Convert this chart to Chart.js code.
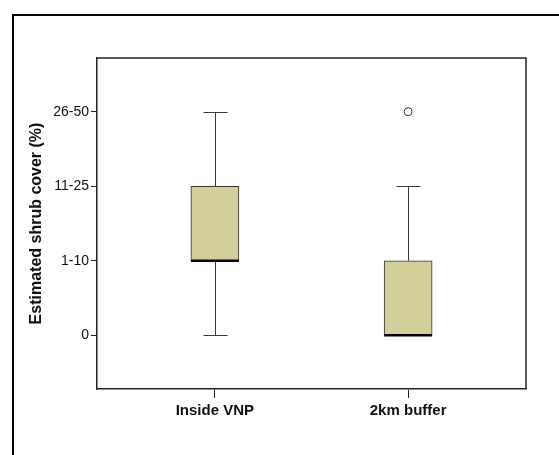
<!DOCTYPE html>
<html>
<head>
<meta charset="utf-8">
<script src="https://cdn.jsdelivr.net/npm/chart.js@4/dist/chart.umd.min.js"></script>
<style>
  html, body { margin: 0; padding: 0; background: #fff; }
  #wrap { width: 559px; height: 455px; }
</style>
</head>
<body>
<div id="wrap"><canvas id="shrubBox" width="559" height="455"></canvas></div>
<script>
// ==== Data ====
const groups = ['Inside VNP', '2km buffer'];
const coverLevels = ['0', '1-10', '11-25', '26-50'];   // ordinal classes, coded 0..3
const whiskerLow = [0, 0];
const q1 = [1, 0];
const median = [1, 0];
const q3 = [2, 1];
const whiskerHigh = [3, 2];
const outliers = [[], [3]];

const boxFill = '#D3CF9A';
const lineDark = '#222';
const whiskerColor = '#3a3a3a';

// whiskers + caps go under the boxes, medians over them
const boxParts = {
    id: 'boxParts',
    beforeDatasetsDraw(chart) {
        const { ctx, scales: { x, y } } = chart;
        const capHalf = 12;
        ctx.save();
        ctx.strokeStyle = whiskerColor;
        ctx.lineWidth = 1;
        groups.forEach((g, i) => {
            const px = Math.round(x.getPixelForValue(i + 1)) + 0.5;
            const segs = [[q3[i], whiskerHigh[i]], [q1[i], whiskerLow[i]]];
            segs.forEach(([from, to]) => {
                if (from === to) return;
                const y0 = y.getPixelForValue(from);
                const y1 = Math.round(y.getPixelForValue(to)) + 0.5;
                ctx.beginPath();
                ctx.moveTo(px, y0);
                ctx.lineTo(px, y1);
                ctx.moveTo(px - capHalf, y1);
                ctx.lineTo(px + capHalf, y1);
                ctx.stroke();
            });
        });
        ctx.restore();
    },
    afterDatasetsDraw(chart) {
        const { ctx, scales: { x, y } } = chart;
        const half = 24;
        ctx.save();
        ctx.strokeStyle = '#000';
        ctx.lineWidth = 2.5;
        groups.forEach((g, i) => {
            const px = x.getPixelForValue(i + 1);
            const py = y.getPixelForValue(median[i]);
            ctx.beginPath();
            ctx.moveTo(px - half, py);
            ctx.lineTo(px + half, py);
            ctx.stroke();
        });
        ctx.restore();
    },
    afterDraw(chart) {
        const { ctx, chartArea: a } = chart;
        ctx.save();
        // plot frame top + right
        ctx.strokeStyle = lineDark;
        ctx.lineWidth = 1.5;
        ctx.beginPath();
        ctx.moveTo(a.left, a.top);
        ctx.lineTo(a.right, a.top);
        ctx.lineTo(a.right, a.bottom);
        ctx.stroke();
        // outer figure frame
        ctx.strokeStyle = '#000';
        ctx.lineWidth = 2;
        ctx.strokeRect(13, 15, 700, 600);
        ctx.restore();
    }
};

const ctx = document.getElementById('shrubBox').getContext('2d');
new Chart(ctx, {
    type: 'bar',
    data: {
        datasets: [{
            type: 'bar',
            data: groups.map((g, i) => ({ x: i + 1, y: [q1[i], q3[i]] })),
            backgroundColor: boxFill,
            borderColor: '#333',
            borderWidth: 1,
            borderSkipped: false,
            barThickness: 48
        }, {
            type: 'scatter',
            data: outliers.flatMap((arr, i) => arr.map(v => ({ x: i + 1, y: v }))),
            pointStyle: 'circle',
            pointRadius: 4,
            pointBackgroundColor: '#fff',
            pointBorderColor: '#333',
            pointBorderWidth: 1
        }]
    },
    options: {
        responsive: false,
        animation: false,
        layout: { padding: { top: 58, right: 33, bottom: 0, left: 0 } },
        plugins: { legend: { display: false }, tooltip: { enabled: false } },
        scales: {
            x: {
                type: 'linear',
                min: 0.39,
                max: 2.61,
                offset: false,
                afterBuildTicks: s => { s.ticks = groups.map((g, i) => ({ value: i + 1 })); },
                afterFit: s => { s.height = 66; },
                ticks: {
                    callback: v => groups[v - 1],
                    color: '#111',
                    padding: 4,
                    maxRotation: 0,
                    font: { family: 'Liberation Sans, Arial, sans-serif', size: 15, weight: 'bold' }
                },
                grid: { offset: false, drawOnChartArea: false, drawTicks: true, tickLength: 9, color: lineDark, lineWidth: 1 },
                border: { display: true, color: lineDark, width: 1.5 }
            },
            y: {
                min: -0.72,
                max: 3.72,
                afterBuildTicks: s => { s.ticks = coverLevels.map((c, i) => ({ value: i })); },
                afterFit: s => { s.width = 97; },
                ticks: {
                    callback: v => coverLevels[v],
                    color: '#111',
                    padding: 2,
                    font: { family: 'Liberation Sans, Arial, sans-serif', size: 14 }
                },
                grid: { drawOnChartArea: false, drawTicks: true, tickLength: 6, color: lineDark, lineWidth: 1 },
                border: { display: true, color: lineDark, width: 1.5 },
                title: {
                    display: true,
                    text: 'Estimated shrub cover (%)',
                    color: '#111',
                    padding: { top: 27, bottom: 0 },
                    font: { family: 'Liberation Sans, Arial, sans-serif', size: 16, weight: 'bold' }
                }
            }
        }
    },
    plugins: [boxParts]
});
</script>
</body>
</html>
